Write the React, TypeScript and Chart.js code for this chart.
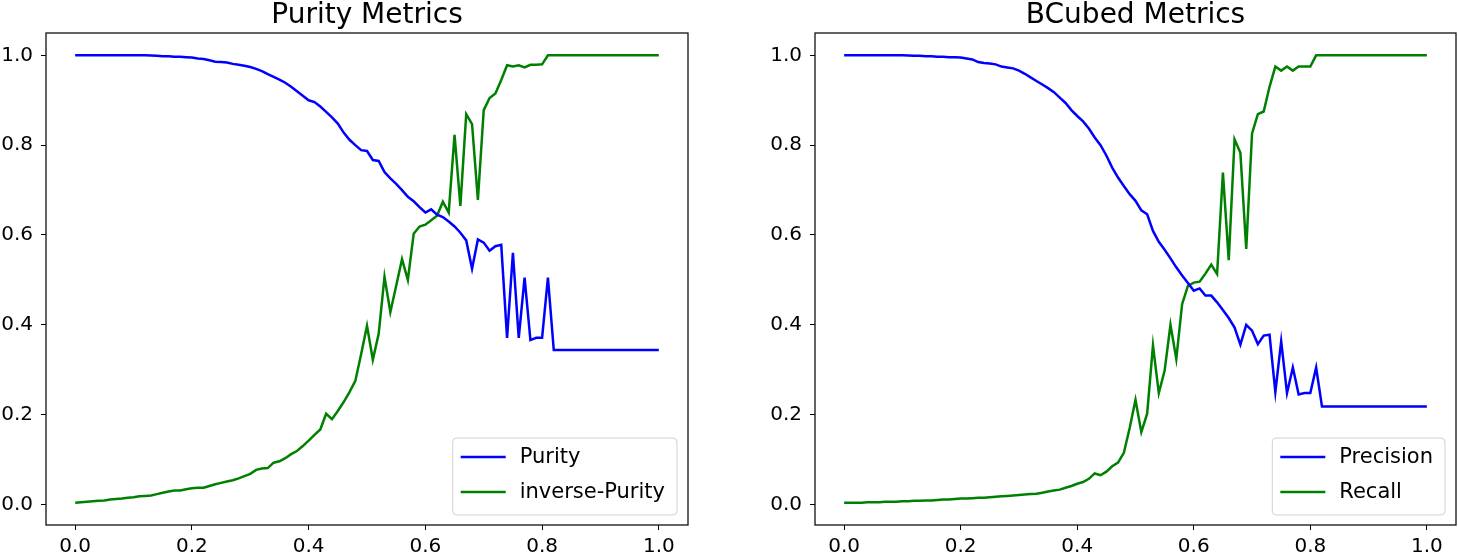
import React, { useEffect, useRef } from "react";
import { Chart, registerables } from "chart.js";

Chart.register(...registerables);

// Threshold grid (x axis)
const thresholds = Array.from({ length: 101 }, (_, i) => i / 100);

// Purity Metrics
const purity = [
  1, 1, 1, 1, 1, 1, 1, 1, 1, 1,
  1, 1, 1, 0.9995, 0.999, 0.998, 0.998, 0.997, 0.997, 0.996,
  0.995, 0.993, 0.992, 0.989, 0.986, 0.985, 0.984, 0.981, 0.979, 0.977,
  0.974, 0.97, 0.965, 0.958, 0.952, 0.946, 0.939, 0.93, 0.92, 0.91,
  0.9, 0.896, 0.886, 0.874, 0.862, 0.848, 0.828, 0.812, 0.8, 0.789,
  0.787, 0.767, 0.765, 0.74, 0.726, 0.714, 0.7, 0.685, 0.675, 0.662,
  0.65, 0.657, 0.645, 0.64, 0.63, 0.619, 0.605, 0.588, 0.525, 0.59,
  0.583, 0.565, 0.575, 0.578, 0.371, 0.56, 0.371, 0.505, 0.366, 0.371,
  0.371, 0.505, 0.344, 0.344, 0.344, 0.344, 0.344, 0.344, 0.344, 0.344,
  0.344, 0.344, 0.344, 0.344, 0.344, 0.344, 0.344, 0.344, 0.344, 0.344,
  0.344,
];

const inversePurity = [
  0.004, 0.005, 0.006, 0.007, 0.008, 0.009, 0.011, 0.012, 0.013, 0.015,
  0.016, 0.018, 0.019, 0.02, 0.023, 0.026, 0.029, 0.031, 0.031, 0.034,
  0.036, 0.037, 0.037, 0.041, 0.045, 0.048, 0.051, 0.054, 0.058, 0.063,
  0.068, 0.077, 0.08, 0.081, 0.093, 0.096, 0.103, 0.112, 0.119, 0.13,
  0.142, 0.155, 0.167, 0.202, 0.19, 0.208, 0.228, 0.25, 0.275, 0.335,
  0.398, 0.322, 0.38, 0.507, 0.428, 0.487, 0.546, 0.5, 0.603, 0.619,
  0.623, 0.633, 0.643, 0.674, 0.65, 0.823, 0.665, 0.869, 0.847, 0.678,
  0.878, 0.905, 0.915, 0.945, 0.978, 0.975, 0.978, 0.973, 0.979, 0.979,
  0.98, 1, 1, 1, 1, 1, 1, 1, 1, 1,
  1, 1, 1, 1, 1, 1, 1, 1, 1, 1,
  1,
];

// BCubed Metrics
const precision = [
  1, 1, 1, 1, 1, 1, 1, 1, 1, 1,
  1, 0.9995, 0.999, 0.999, 0.998, 0.998, 0.997, 0.997, 0.996, 0.996,
  0.995, 0.993, 0.991, 0.985, 0.983, 0.982, 0.98, 0.975, 0.973, 0.971,
  0.966, 0.959, 0.951, 0.943, 0.935, 0.927, 0.918, 0.906, 0.894, 0.878,
  0.865, 0.853, 0.837, 0.817, 0.8, 0.777, 0.75, 0.728, 0.709, 0.691,
  0.676, 0.655, 0.646, 0.609, 0.585, 0.567, 0.548, 0.528, 0.51, 0.493,
  0.476, 0.481, 0.465, 0.465, 0.45, 0.433, 0.415, 0.394, 0.356, 0.4,
  0.387, 0.357, 0.376, 0.378, 0.25, 0.363, 0.248, 0.305, 0.245, 0.248,
  0.248, 0.305, 0.218, 0.218, 0.218, 0.218, 0.218, 0.218, 0.218, 0.218,
  0.218, 0.218, 0.218, 0.218, 0.218, 0.218, 0.218, 0.218, 0.218, 0.218,
  0.218,
];

const recall = [
  0.004, 0.004, 0.004, 0.004, 0.005, 0.005, 0.005, 0.006, 0.006, 0.006,
  0.007, 0.007, 0.008, 0.008, 0.009, 0.009, 0.01, 0.011, 0.011, 0.012,
  0.013, 0.013, 0.014, 0.015, 0.015, 0.016, 0.017, 0.018, 0.019, 0.02,
  0.021, 0.022, 0.023, 0.024, 0.026, 0.029, 0.031, 0.033, 0.037, 0.041,
  0.046, 0.05, 0.057, 0.069, 0.065, 0.073, 0.085, 0.093, 0.115, 0.17,
  0.233, 0.161, 0.202, 0.354, 0.248, 0.298, 0.4, 0.324, 0.446, 0.487,
  0.494, 0.496, 0.514, 0.534, 0.513, 0.739, 0.544, 0.813, 0.783, 0.569,
  0.826, 0.869, 0.875, 0.93, 0.975, 0.966, 0.975, 0.966, 0.975, 0.975,
  0.975, 1, 1, 1, 1, 1, 1, 1, 1, 1,
  1, 1, 1, 1, 1, 1, 1, 1, 1, 1,
  1,
];

const xTicks = [0, 0.2, 0.4, 0.6, 0.8, 1.0];
const yTicks = [0, 0.2, 0.4, 0.6, 0.8, 1.0];

const leftTitle = "Purity Metrics";
const rightTitle = "BCubed Metrics";
const leftLabels = ["Purity", "inverse-Purity"];
const rightLabels = ["Precision", "Recall"];

const BLUE = "#0000ff";
const GREEN = "#008000";
const FONT = "'DejaVu Sans', sans-serif";

const CANVAS_W = 729;
const CANVAS_H = 556;

const mplTitle = {
  id: "mplTitle",
  afterDraw(chart: any, _args: any, opts: any) {
    const { ctx, chartArea } = chart;
    ctx.save();
    ctx.font = `${opts.size}px ${FONT}`;
    ctx.fillStyle = "#000";
    ctx.textAlign = "center";
    ctx.textBaseline = "alphabetic";
    ctx.fillText(opts.text, (chartArea.left + chartArea.right) / 2, opts.baseline);
    ctx.restore();
  },
};

const mplFrame = {
  id: "mplFrame",
  afterDatasetsDraw(chart: any) {
    const { ctx, chartArea: a } = chart;
    ctx.save();
    ctx.strokeStyle = "#111";
    ctx.lineWidth = 1.3;
    ctx.strokeRect(a.left, a.top, a.right - a.left, a.bottom - a.top);
    ctx.restore();
  },
};

const mplLegend = {
  id: "mplLegend",
  afterDraw(chart: any, _args: any, opts: any) {
    const { ctx, chartArea: a } = chart;
    const fs = opts.size;
    ctx.save();
    ctx.font = `${fs}px ${FONT}`;
    const ds = chart.data.datasets;
    const maxW = Math.max(...ds.map((d: any) => ctx.measureText(d.label).width));
    const boxRight = a.right - 11;
    const boxBottom = a.bottom - 10;
    const boxH = 77;
    const boxW = 67 + maxW + 12;
    const boxLeft = boxRight - boxW;
    const boxTop = boxBottom - boxH;
    ctx.beginPath();
    if ((ctx as any).roundRect) {
      (ctx as any).roundRect(boxLeft, boxTop, boxW, boxH, 4);
    } else {
      ctx.rect(boxLeft, boxTop, boxW, boxH);
    }
    ctx.fillStyle = "rgba(255,255,255,0.8)";
    ctx.fill();
    ctx.strokeStyle = "rgba(204,204,204,0.9)";
    ctx.lineWidth = 1;
    ctx.stroke();
    ds.forEach((d: any, i: number) => {
      const y = boxTop + 19 + i * 35;
      ctx.beginPath();
      ctx.moveTo(boxLeft + 8, y);
      ctx.lineTo(boxLeft + 53, y);
      ctx.strokeStyle = d.borderColor;
      ctx.lineWidth = 2.5;
      ctx.stroke();
      ctx.fillStyle = "#000";
      ctx.textAlign = "left";
      ctx.textBaseline = "middle";
      ctx.fillText(d.label, boxLeft + 67, y + 1);
    });
    ctx.restore();
  },
};

function makeConfig(
  title: string,
  labels: string[],
  series: number[][],
  yAxisWidth: number,
  padRight: number
): any {
  const colors = [BLUE, GREEN];
  return {
    type: "line",
    data: {
      datasets: series.map((s, k) => ({
        label: labels[k],
        data: thresholds.map((x, i) => ({ x, y: s[i] })),
        borderColor: colors[k],
        backgroundColor: colors[k],
        borderWidth: 2.5,
        pointRadius: 0,
        tension: 0,
        fill: false,
      })),
    },
    options: {
      responsive: false,
      animation: false,
      devicePixelRatio: 1,
      events: [],
      layout: { padding: { left: 0, right: padRight, top: 33, bottom: 0 } },
      plugins: {
        legend: { display: false },
        title: { display: false },
        tooltip: { enabled: false },
        mplTitle: { text: title, size: 28, baseline: 23 },
        mplLegend: { size: 21 },
      },
      scales: {
        x: {
          type: "linear",
          min: -0.05,
          max: 1.05,
          afterBuildTicks: (axis: any) => {
            axis.ticks = xTicks.map((v) => ({ value: v }));
          },
          afterFit: (axis: any) => {
            axis.height = 31;
          },
          ticks: {
            callback: (v: any) => Number(v).toFixed(1),
            font: { family: FONT, size: 20 },
            color: "#000",
            padding: 5,
            maxRotation: 0,
            autoSkip: false,
          },
          grid: {
            drawOnChartArea: false,
            drawTicks: true,
            tickLength: 5,
            color: "#000",
            lineWidth: 1,
          },
          border: { display: false },
        },
        y: {
          type: "linear",
          min: -0.0458,
          max: 1.0498,
          afterBuildTicks: (axis: any) => {
            axis.ticks = yTicks.map((v) => ({ value: v }));
          },
          afterFit: (axis: any) => {
            axis.width = yAxisWidth;
          },
          ticks: {
            callback: (v: any) => Number(v).toFixed(1),
            font: { family: FONT, size: 20 },
            color: "#000",
            padding: 8,
            autoSkip: false,
          },
          grid: {
            drawOnChartArea: false,
            drawTicks: true,
            tickLength: 5,
            color: "#000",
            lineWidth: 1,
          },
          border: { display: false },
        },
      },
    },
    plugins: [mplTitle, mplFrame, mplLegend],
  };
}

export default function App() {
  const leftRef = useRef<HTMLCanvasElement | null>(null);
  const rightRef = useRef<HTMLCanvasElement | null>(null);

  useEffect(() => {
    const charts: Chart[] = [];
    if (leftRef.current) {
      charts.push(
        new Chart(
          leftRef.current,
          makeConfig(leftTitle, leftLabels, [purity, inversePurity], 46, CANVAS_W - 688)
        )
      );
    }
    if (rightRef.current) {
      charts.push(
        new Chart(
          rightRef.current,
          makeConfig(rightTitle, rightLabels, [precision, recall], 815 - CANVAS_W, CANVAS_W - (1456 - CANVAS_W))
        )
      );
    }
    return () => charts.forEach((c) => c.destroy());
  }, []);

  return (
    <div
      style={{
        position: "absolute",
        left: 0,
        top: 0,
        width: 1458,
        height: 556,
        background: "#fff",
        overflow: "hidden",
      }}
    >
      <canvas
        ref={leftRef}
        width={CANVAS_W}
        height={CANVAS_H}
        style={{ position: "absolute", left: 0, top: 0, width: CANVAS_W, height: CANVAS_H }}
      />
      <canvas
        ref={rightRef}
        width={CANVAS_W}
        height={CANVAS_H}
        style={{ position: "absolute", left: CANVAS_W, top: 0, width: CANVAS_W, height: CANVAS_H }}
      />
    </div>
  );
}
